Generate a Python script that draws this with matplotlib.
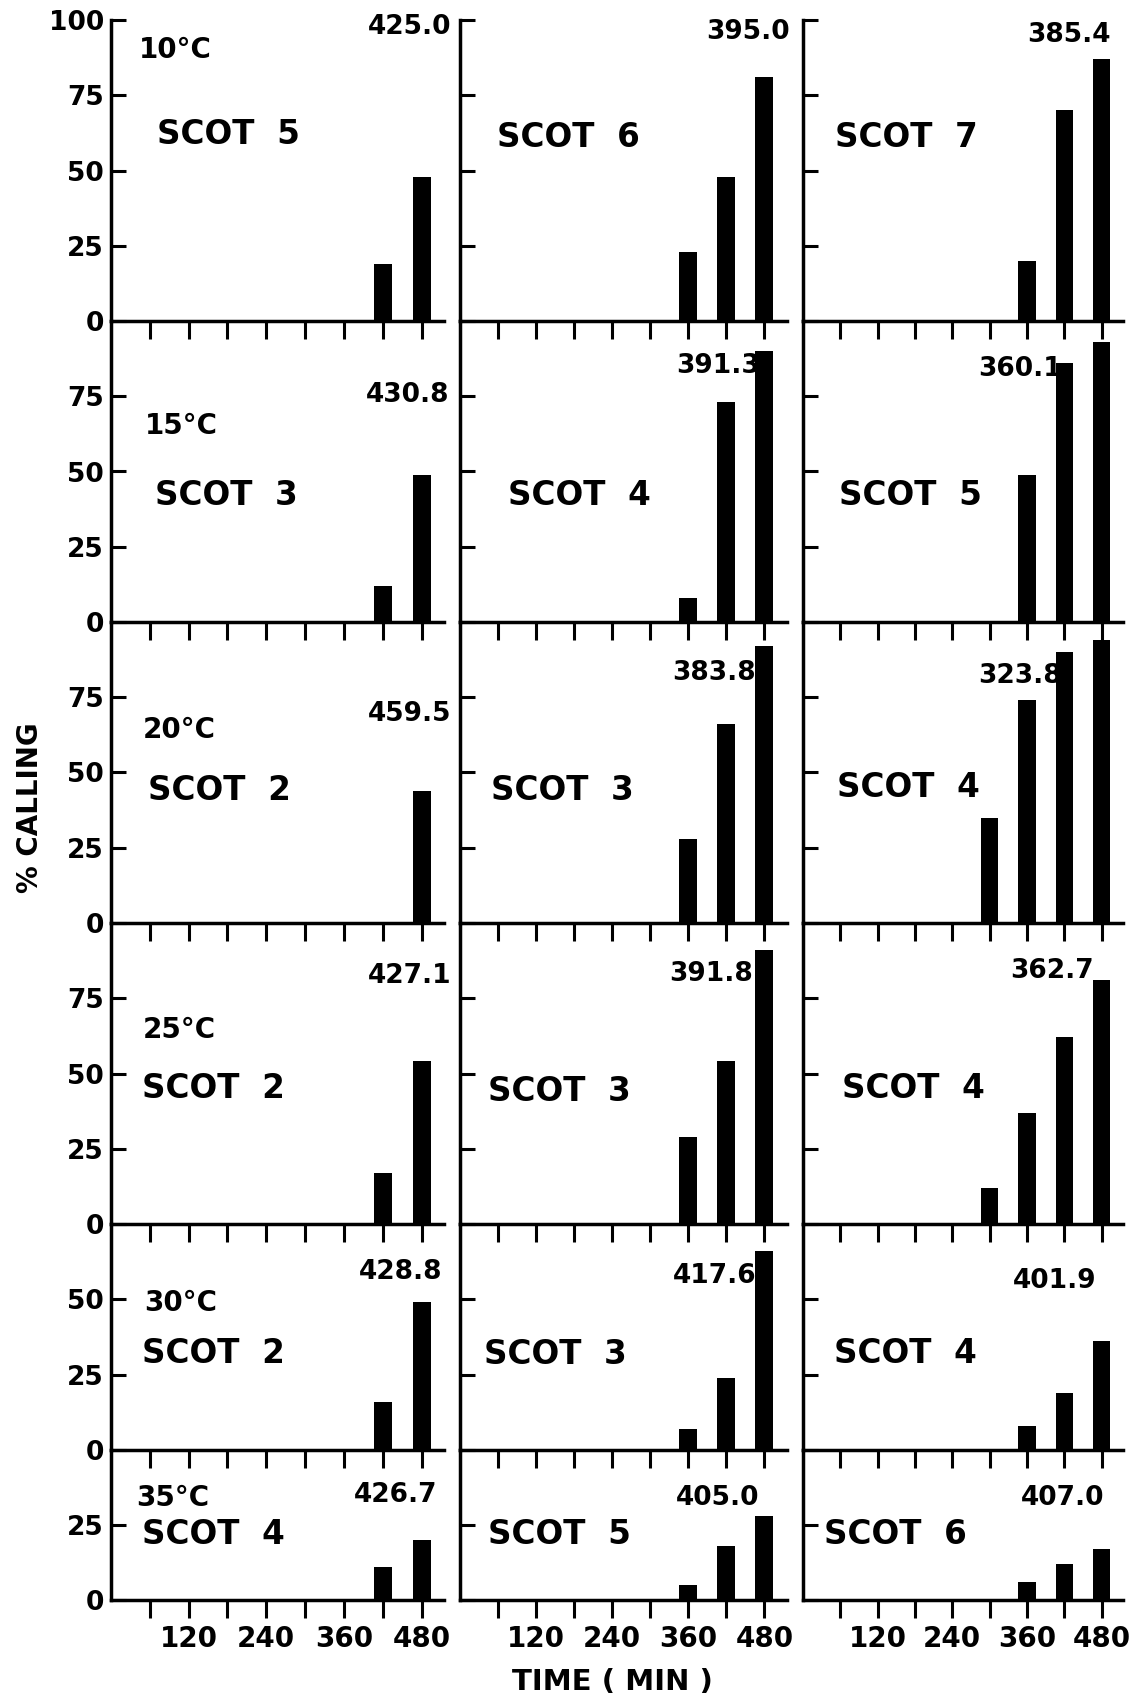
import numpy as np
from matplotlib import pyplot as plt

# Percent calling at each sampled time, one row per temperature, three SCOT groups per row
temps = ["10°C", "15°C", "20°C", "25°C", "30°C", "35°C"]
scots = [[5, 6, 7], [3, 4, 5], [2, 3, 4], [2, 3, 4], [2, 3, 4], [4, 5, 6]]
onset = [["425.0", "395.0", "385.4"],
         ["430.8", "391.3", "360.1"],
         ["459.5", "383.8", "323.8"],
         ["427.1", "391.8", "362.7"],
         ["428.8", "417.6", "401.9"],
         ["426.7", "405.0", "407.0"]]
times = [[[420, 480], [360, 420, 480], [360, 420, 480]],
         [[420, 480], [360, 420, 480], [360, 420, 480]],
         [[480], [360, 420, 480], [300, 360, 420, 480]],
         [[420, 480], [360, 420, 480], [300, 360, 420, 480]],
         [[420, 480], [360, 420, 480], [360, 420, 480]],
         [[420, 480], [360, 420, 480], [360, 420, 480]]]
calling = [[[19, 48], [23, 48, 81], [20, 70, 87]],
           [[12, 49], [8, 73, 90], [49, 86, 93]],
           [[44], [28, 66, 92], [35, 74, 90, 94]],
           [[17, 54], [29, 54, 91], [12, 37, 62, 81]],
           [[16, 49], [7, 24, 66], [8, 19, 36]],
           [[11, 20], [5, 18, 28], [6, 12, 17]]]
ymax = [100, 100, 100, 100, 75, 50]
xticks = [60, 120, 180, 240, 300, 360, 420, 480]
xticklabels = ["", "120", "", "240", "", "360", "", "480"]

# where the texts sit inside each panel (minutes, % calling)
temp_pos = [(100, 90), (109, 65), (105, 64), (106, 64.5), (108, 48.7), (96, 34)]
scot_pos = [[(181, 62), (171, 61), (167, 61)],
            [(179, 42), (189, 42), (172, 42)],
            [(167, 44), (161, 44), (169, 45)],
            [(158, 45), (157, 44), (178, 45)],
            [(159, 32), (151, 31.5), (164, 32)],
            [(159, 22), (157, 22), (149, 22)]]
num_pos = [[(462, 97.7), (454, 96), (428, 95)],
           [(459, 75.5), (407, 85), (349, 84)],
           [(461, 69.5), (401, 83), (349, 82)],
           [(461, 82.5), (396, 83), (400, 84)],
           [(447, 59), (401, 57.6), (404, 56)],
           [(440, 35), (407, 34), (417, 34)]]

plt.rcParams["font.family"] = "DejaVu Sans"
plt.rcParams["font.weight"] = "bold"

W, H = 1139, 1701
fig = plt.figure(figsize=(W / 100, H / 100), dpi=100)

col_left = [111, 460, 803]
col_scale = [0.647, 0.634, 0.622]   # pixels per minute
xmax = 515
px_unit = 3.01
top = 20

y_top = top
for r in range(6):
    h = ymax[r] * px_unit
    for c in range(3):
        w = xmax * col_scale[c]
        ax = fig.add_axes([col_left[c] / W, 1 - (y_top + h) / H, w / W, h / H])
        ax.bar(times[r][c], calling[r][c], width=28, color="black")
        ax.set_xlim(0, xmax)
        ax.set_ylim(0, ymax[r])
        for s in ["top", "right"]:
            ax.spines[s].set_visible(False)
        for s in ["left", "bottom"]:
            ax.spines[s].set_linewidth(2.5)
        ax.set_xticks(xticks)
        if r == 5:
            ax.set_xticklabels(xticklabels, fontsize=20)
        else:
            ax.set_xticklabels([])
        yt = [0, 25, 50, 75, 100] if r == 0 else list(range(0, ymax[r], 25))
        ax.set_yticks(yt)
        if c == 0:
            ax.set_yticklabels([str(v) for v in yt], fontsize=19)
        else:
            ax.set_yticklabels([])
        ax.tick_params(axis="x", direction="out", length=13, width=2.2, pad=5)
        ax.tick_params(axis="y", direction="in", length=11, width=2.2, pad=5)
        ax.patch.set_alpha(0)

        if c == 0:
            ax.text(*temp_pos[r], temps[r], fontsize=20, ha="center", va="center")
        ax.text(*scot_pos[r][c], "SCOT  %d" % scots[r][c], fontsize=23.5,
                ha="center", va="center")
        ax.text(*num_pos[r][c], onset[r][c], fontsize=19, ha="center", va="center")
    y_top += h

fig.text(0.026, 0.525, "% CALLING", rotation=90, fontsize=20,
         ha="center", va="center")
fig.text(612 / W, 1 - 1682 / H, "TIME ( MIN )", fontsize=21,
         ha="center", va="center")

fig.savefig("out.png", dpi=100)
